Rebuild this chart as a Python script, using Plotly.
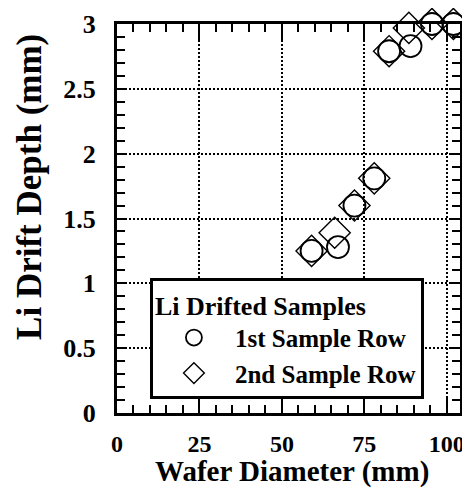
import plotly.graph_objects as go

# Data
row1_diam = [59, 67, 72, 78, 82.5, 89, 95.5, 102]
row1_depth = [1.25, 1.28, 1.60, 1.81, 2.79, 2.83, 3.0, 3.0]
row2_diam = [59, 66, 72, 78, 82.5, 88.5, 95.5, 102]
row2_depth = [1.25, 1.39, 1.60, 1.81, 2.79, 2.97, 3.0, 3.0]

x_ticks = [0, 25, 50, 75, 100]
y_ticks = [0, 0.5, 1, 1.5, 2, 2.5, 3]
y_tick_text = ["0", "0.5", "1", "1.5", "2", "2.5", "3"]

FONT = "Liberation Serif"

fig = go.Figure()
fig.add_trace(go.Scatter(
    x=row1_diam, y=row1_depth, mode="markers", name="1st Sample Row",
    marker=dict(symbol="circle-open", size=22, color="black", line=dict(width=1.8, color="black")),
    cliponaxis=False))
fig.add_trace(go.Scatter(
    x=row2_diam, y=row2_depth, mode="markers", name="2nd Sample Row",
    marker=dict(symbol="diamond-open", size=24, color="black", line=dict(width=1.4, color="black")),
    cliponaxis=False))

# page body has an 8px margin, so the figure is slightly smaller and shifted
fig.update_layout(
    width=462, height=483,
    margin=dict(l=109, r=10, t=16, b=78, autoexpand=False),
    paper_bgcolor="white", plot_bgcolor="white",
    font=dict(family=FONT, color="black", size=24, weight="bold"),
    showlegend=True,
    legend=dict(
        x=0.096, y=0.347, xanchor="left", yanchor="top",
        bgcolor="white", bordercolor="black", borderwidth=3,
        font=dict(family=FONT, size=25, color="black", weight="bold"),
        title=dict(text="Li Drifted Samples", font=dict(family=FONT, size=26, color="black", weight="bold")),
        itemwidth=72, tracegroupgap=0,
    ),
)

fig.update_xaxes(
    range=[0, 104], tickmode="array", tickvals=x_ticks, ticktext=[str(v) for v in x_ticks],
    ticks="inside", ticklen=17, tickwidth=2, tickcolor="black",
    minor=dict(dtick=5, ticks="inside", ticklen=8, tickwidth=2, tickcolor="black", showgrid=False),
    showline=True, linewidth=3, linecolor="black", mirror="allticks",
    showgrid=True, gridcolor="black", gridwidth=2, griddash="2px,2px",
    zeroline=False, ticklabelstandoff=7, automargin=False,
    tickfont=dict(family=FONT, size=24, color="black", weight="bold"),
)
fig.update_yaxes(
    range=[0, 3], tickmode="array", tickvals=y_ticks, ticktext=y_tick_text,
    ticks="inside", ticklen=10, tickwidth=2, tickcolor="black",
    minor=dict(dtick=0.1, ticks="inside", ticklen=8, tickwidth=2, tickcolor="black", showgrid=False),
    showline=True, linewidth=3, linecolor="black", mirror="allticks",
    showgrid=True, gridcolor="black", gridwidth=2, griddash="2px,2px",
    zeroline=False, ticklabelstandoff=13, automargin=False,
    tickfont=dict(family=FONT, size=26, color="black", weight="bold"),
)

fig.add_annotation(
    text="Wafer Diameter (mm)", xref="paper", yref="paper", x=0.51, y=-0.15,
    xanchor="center", yanchor="middle", showarrow=False,
    font=dict(family=FONT, size=29, color="black", weight="bold"))
fig.add_annotation(
    text="Li Drift Depth (mm)", xref="paper", yref="paper", x=-0.255, y=0.58,
    xanchor="center", yanchor="middle", showarrow=False, textangle=-90,
    font=dict(family=FONT, size=35, color="black", weight="bold"))

fig.write_html("out.html")
